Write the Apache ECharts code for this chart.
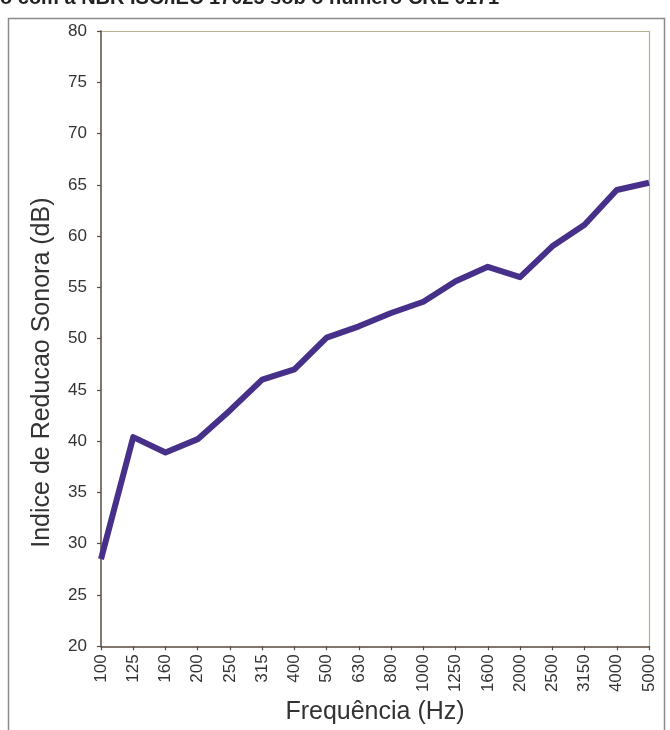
<!DOCTYPE html>
<html><head><meta charset="utf-8">
<script src="https://cdn.jsdelivr.net/npm/echarts@6/dist/echarts.min.js"></script>
<style>html,body{margin:0;padding:0;background:#fff}#c{width:670px;height:730px}</style>
</head><body><div id="c"></div>
<script>
const frequencies = ['100','125','160','200','250','315','400','500','630','800','1000','1250','1600','2000','2500','3150','4000','5000'];
const reductionIndex = [28.5,40.4,38.9,40.2,43.0,46.0,47.0,50.1,51.2,52.5,53.6,55.6,57.0,56.0,59.0,61.1,64.5,65.2];
const yTicks = {min:20, max:80, interval:5};
const headerText = 'o com a NBR ISO/IEC 17025 sob o número CRL 0171';

const chart = echarts.init(document.getElementById('c'), null, {renderer:'canvas'});
chart.setOption({
  animation:false,
  backgroundColor:'#fff',
  textStyle:{fontFamily:'Liberation Sans, Arial, sans-serif'},
  graphic:[
    {type:'text', left:0, top:-12, style:{text:headerText, font:'bold 20px "Liberation Sans", Arial, sans-serif', fill:'#222'}},
    {type:'rect', shape:{x:8.5,y:18.5,width:656,height:730}, style:{fill:'none', stroke:'#8a8a8a', lineWidth:1.5}},
    {type:'polyline', shape:{points:[[101,31.5],[649.5,31.5],[649.5,647]]}, style:{stroke:'#b8b38e', lineWidth:1.2, fill:'none'}}
  ],
  grid:{left:101, right:21, top:31, bottom:83, containLabel:false},
  xAxis:{
    type:'category', data:frequencies, boundaryGap:false,
    name:'Frequência (Hz)', nameLocation:'middle', nameGap:53,
    nameTextStyle:{fontSize:25, color:'#333'},
    axisLine:{lineStyle:{color:'#5a4a3e', width:1.5}},
    axisTick:{alignWithLabel:true, length:4, lineStyle:{color:'#5a4a3e', width:1.2}},
    axisLabel:{rotate:90, fontSize:17, color:'#333', margin:8, interval:0},
    splitLine:{show:false}
  },
  yAxis:{
    type:'value', min:yTicks.min, max:yTicks.max, interval:yTicks.interval,
    name:'Indice de Reducao Sonora (dB)', nameLocation:'middle', nameGap:46,
    nameTextStyle:{fontSize:25, color:'#333', padding:[0,68,0,0]},
    axisLine:{show:true, lineStyle:{color:'#5a4a3e', width:1.5}},
    axisTick:{show:true, length:4, lineStyle:{color:'#5a4a3e', width:1.2}},
    axisLabel:{fontSize:17, color:'#333', margin:14},
    splitLine:{show:false}
  },
  series:[{
    type:'line', data:reductionIndex, symbol:'none',
    lineStyle:{color:'#47308a', width:6, join:'round'}
  }]
});
</script></body></html>
